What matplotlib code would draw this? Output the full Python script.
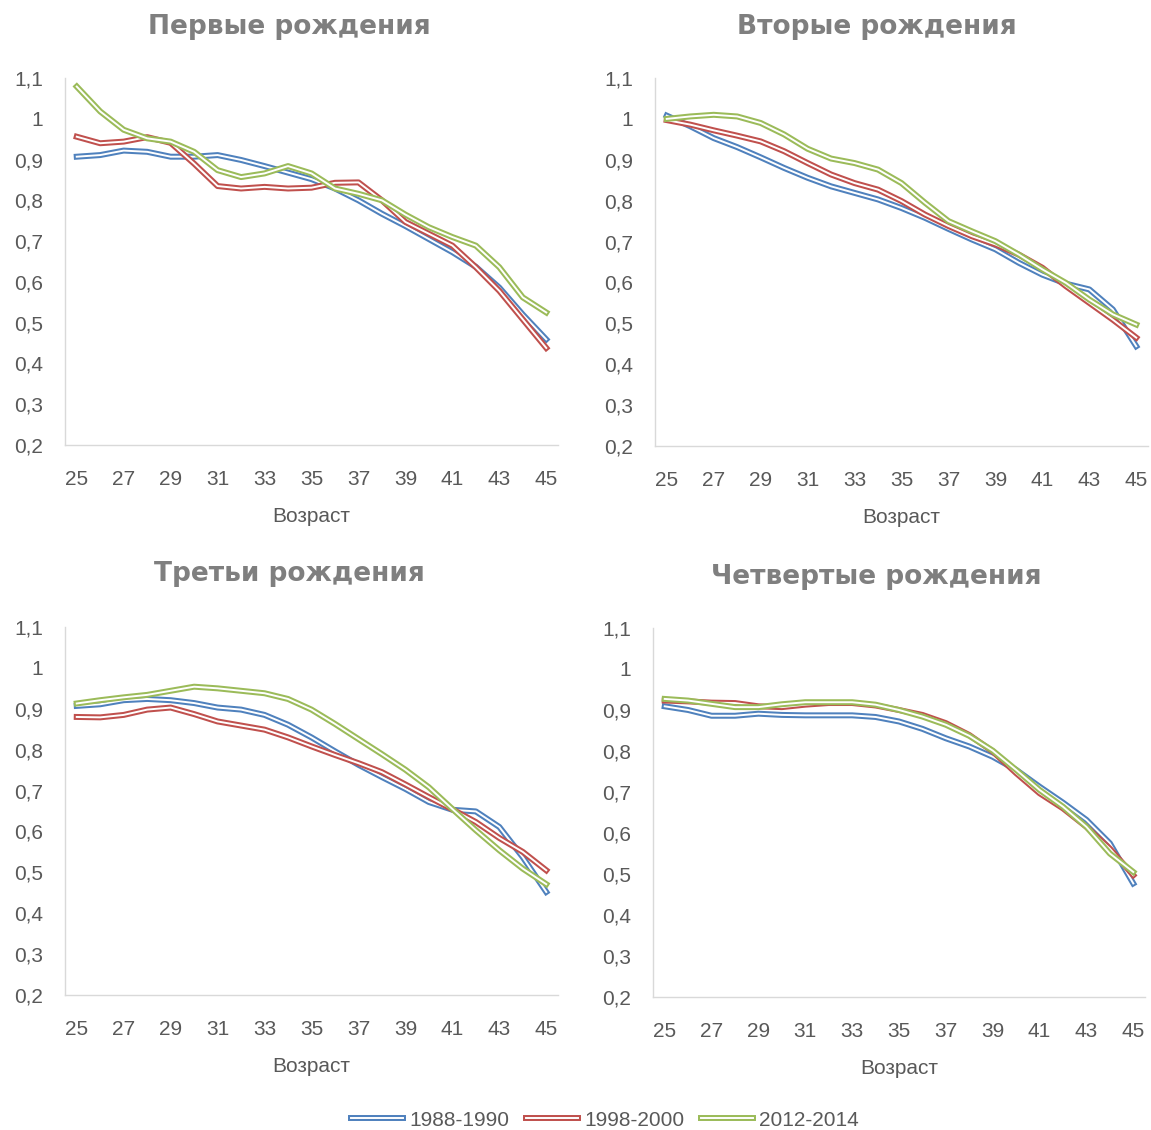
import numpy as np
import matplotlib
matplotlib.use("Agg")
import matplotlib.pyplot as plt
import matplotlib.patheffects as pe

plt.rcParams['font.family'] = ['Liberation Sans', 'DejaVu Sans']

# Возраст
ages = np.arange(25, 46)
tick_ages = np.arange(25, 46, 2)
y_ticks = [0.2, 0.3, 0.4, 0.5, 0.6, 0.7, 0.8, 0.9, 1.0, 1.1]
y_tick_labels = ["0,2", "0,3", "0,4", "0,5", "0,6", "0,7", "0,8", "0,9", "1", "1,1"]

periods = ["1988-1990", "1998-2000", "2012-2014"]
colors = ["#4F81BD", "#C0504D", "#9BBB59"]

titles = ["Первые рождения", "Вторые рождения", "Третьи рождения", "Четвертые рождения"]

# Первые рождения
first_88 = [0.907, 0.911, 0.922, 0.919, 0.907, 0.907, 0.911, 0.899, 0.884, 0.868, 0.852,
            0.829, 0.800, 0.767, 0.737, 0.705, 0.673, 0.637, 0.586, 0.520, 0.459]
first_98 = [0.956, 0.940, 0.944, 0.955, 0.941, 0.890, 0.835, 0.829, 0.833, 0.829, 0.831,
            0.843, 0.844, 0.800, 0.747, 0.718, 0.689, 0.636, 0.578, 0.508, 0.438]
first_12 = [1.079, 1.018, 0.973, 0.952, 0.944, 0.919, 0.874, 0.857, 0.866, 0.884, 0.866,
            0.829, 0.816, 0.800, 0.765, 0.734, 0.710, 0.689, 0.636, 0.562, 0.525]

# Вторые рождения
second_88 = [1.008, 0.982, 0.953, 0.931, 0.906, 0.880, 0.856, 0.835, 0.819, 0.803, 0.782,
             0.758, 0.731, 0.705, 0.681, 0.648, 0.619, 0.597, 0.583, 0.534, 0.444]
second_98 = [0.997, 0.986, 0.972, 0.959, 0.945, 0.921, 0.892, 0.864, 0.843, 0.827, 0.799,
             0.766, 0.738, 0.713, 0.693, 0.668, 0.636, 0.591, 0.550, 0.509, 0.465]
second_12 = [1.000, 1.006, 1.010, 1.006, 0.990, 0.962, 0.927, 0.903, 0.892, 0.876, 0.843,
             0.795, 0.750, 0.725, 0.701, 0.668, 0.632, 0.599, 0.558, 0.522, 0.497]

# Третьи рождения
third_88 = [0.907, 0.911, 0.921, 0.924, 0.921, 0.914, 0.903, 0.898, 0.885, 0.861, 0.830,
            0.796, 0.763, 0.733, 0.704, 0.672, 0.653, 0.649, 0.611, 0.537, 0.452]
third_98 = [0.880, 0.879, 0.885, 0.898, 0.903, 0.887, 0.869, 0.859, 0.849, 0.830, 0.808,
            0.787, 0.767, 0.745, 0.715, 0.684, 0.654, 0.623, 0.584, 0.550, 0.505]
third_12 = [0.913, 0.921, 0.928, 0.934, 0.944, 0.954, 0.950, 0.944, 0.938, 0.924, 0.898,
            0.863, 0.826, 0.789, 0.751, 0.708, 0.655, 0.603, 0.554, 0.509, 0.471]

# Четвертые рождения
fourth_88 = [0.909, 0.900, 0.886, 0.886, 0.891, 0.888, 0.887, 0.887, 0.887, 0.883, 0.872,
             0.854, 0.831, 0.811, 0.786, 0.754, 0.713, 0.674, 0.632, 0.575, 0.477]
fourth_98 = [0.923, 0.921, 0.918, 0.917, 0.909, 0.907, 0.913, 0.917, 0.917, 0.911, 0.900,
             0.888, 0.868, 0.839, 0.799, 0.746, 0.697, 0.660, 0.615, 0.562, 0.497]
fourth_12 = [0.927, 0.923, 0.915, 0.907, 0.907, 0.914, 0.919, 0.919, 0.919, 0.913, 0.900,
             0.884, 0.864, 0.837, 0.801, 0.754, 0.705, 0.664, 0.615, 0.550, 0.505]

panels = [
    [first_88, first_98, first_12],
    [second_88, second_98, second_12],
    [third_88, third_98, third_12],
    [fourth_88, fourth_98, fourth_12],
]

W, H = 1151, 1130
fig = plt.figure(figsize=(W / 100, H / 100), dpi=100)

# положение областей построения в пикселях: left, top, right, bottom
boxes = [(65, 78, 558, 445), (655, 78, 1148, 446),
         (65, 627, 558, 995), (653, 628, 1145, 997)]
# заголовки центрированы по области диаграммы, а не по осям
title_pos = [(289, 27), (877, 27), (289, 574), (876, 577)]

text_col = "#595959"
double = [pe.Normal(), pe.Stroke(linewidth=1.4, foreground="white")]

for box, series, title, tp in zip(boxes, panels, titles, title_pos):
    l, t, r, b = box
    ax = fig.add_axes([l / W, 1 - b / H, (r - l) / W, (b - t) / H])
    for vals, col, lab in zip(series, colors, periods):
        ax.plot(ages, vals, color=col, lw=4.3, label=lab, path_effects=double,
                solid_joinstyle="round")
    ax.set_xlim(24.5, 45.5)
    ax.set_ylim(0.2, 1.1)
    ax.set_xticks(tick_ages)
    ax.set_yticks(y_ticks)
    ax.set_yticklabels(y_tick_labels)
    ax.tick_params(length=0, labelsize=15, labelcolor=text_col)
    ax.tick_params(axis="x", pad=18)
    ax.tick_params(axis="y", pad=16)
    for s in ["top", "right"]:
        ax.spines[s].set_visible(False)
    for s in ["left", "bottom"]:
        ax.spines[s].set_color("#d9d9d9")
        ax.spines[s].set_linewidth(1)
    ax.set_xlabel("Возраст", fontsize=15, color=text_col, labelpad=13)
    fig.text(tp[0] / W, 1 - tp[1] / H, title, ha="center", va="center",
             fontsize=19, fontweight="bold", color="#7f7f7f",
             family=["DejaVu Sans"])

handles, labels = ax.get_legend_handles_labels()
fig.legend(handles, labels, loc="center", bbox_to_anchor=(605 / W, 1 - 1120 / H),
           ncol=3, frameon=False, fontsize=15, labelcolor=text_col,
           handlelength=2.5, handletextpad=0.3, columnspacing=0.8)

fig.savefig("out.png", dpi=100)
